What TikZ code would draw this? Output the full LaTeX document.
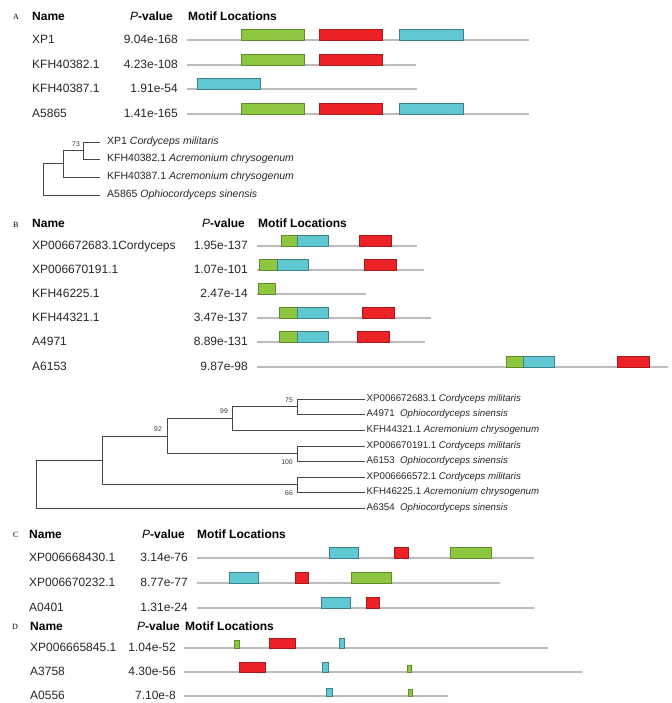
\documentclass[tikz,border=0pt]{standalone}
\usepackage{fontspec}
\setmainfont{Liberation Sans}
\newfontfamily\panelfont{Liberation Serif}
\definecolor{motifgreen}{RGB}{141,198,63}
\definecolor{motifred}{RGB}{236,34,38}
\definecolor{motifcyan}{RGB}{96,200,210}
\definecolor{seqgray}{RGB}{188,188,188}
\definecolor{treegray}{RGB}{70,70,70}

\tikzset{
  seqline/.style={draw=seqgray,line width=1.1pt},
  mgreen/.style={fill=motifgreen,draw=motifgreen!70!black,line width=0.5pt},
  mred/.style={fill=motifred,draw=motifred!70!black,line width=0.5pt},
  mcyan/.style={fill=motifcyan,draw=motifcyan!65!black,line width=0.5pt},
  rowtxt/.style={anchor=base west,inner sep=0pt,text=black!85,font=\fontsize{12}{14}\selectfont},
  pval/.style={anchor=base east,inner sep=0pt,text=black!85,font=\fontsize{12}{14}\selectfont},
  hdr/.style={anchor=base west,inner sep=0pt,font=\fontsize{12}{14}\selectfont\bfseries},
  panel/.style={anchor=base west,inner sep=0pt,font=\fontsize{8}{9}\panelfont},
  branch/.style={draw=treegray,line width=0.7pt},
  leafa/.style={anchor=west,xshift=7pt,inner sep=0pt,text height=7.5pt,text depth=2pt,
    text=black!85,font=\fontsize{10.5}{12}\selectfont},
  leafb/.style={anchor=west,xshift=1.5pt,inner sep=0pt,text height=7pt,text depth=2pt,
    text=black!85,font=\fontsize{9.7}{11}\selectfont},
  boot/.style={inner sep=0pt,text=black!80,font=\fontsize{6.8}{8}\selectfont}
}

\begin{document}
\begin{tikzpicture}[x=1pt,y=-1pt]
  \useasboundingbox (0,0) rectangle (671,703);

  % panel A, motif table
  \node[panel] (pA) at (13,20) {A};
  \node[hdr] (hAn) at (32,21) {Name};
  \node[hdr] (hAp) at (130,21) {\textit{\mdseries P}-value};
  \node[hdr] (hAm) at (188,21) {Motif Locations};
  \foreach \nm/\pv/\y/\e [count=\i] in {XP1/9.04e-168/40/529, KFH40382.1/4.23e-108/65/416,
      KFH40387.1/1.91e-54/89/417, A5865/1.41e-165/114/529} {
    \node[rowtxt] (a\i n) at (32,\y+3.5) {\nm};
    \node[pval] (a\i p) at (178,\y+3.5) {\pv};
    \draw[seqline] (187,\y) -- (\e,\y);
  }
  \foreach \y in {40,114} {
    \draw[mgreen] (241,\y-11) rectangle (304,\y);
    \draw[mred] (319,\y-11) rectangle (382,\y);
    \draw[mcyan] (399,\y-11) rectangle (463,\y);
  }
  \draw[mgreen] (241,54) rectangle (304,65);
  \draw[mred] (319,54) rectangle (382,65);
  \draw[mcyan] (197,78) rectangle (260,89);

  % panel A, tree
  \coordinate (ta1) at (100,142);
  \coordinate (ta2) at (100,159);
  \coordinate (ta3) at (100,177);
  \coordinate (ta4) at (100,195);
  \coordinate (n73) at (83,150.5);
  \coordinate (nA2) at (63,163.75);
  \coordinate (rA) at (43,179.4);
  \draw[branch] (n73) |- (ta1);
  \draw[branch] (n73) |- (ta2);
  \draw[branch] (nA2) |- (n73);
  \draw[branch] (nA2) |- (ta3);
  \draw[branch] (rA) |- (nA2);
  \draw[branch] (rA) |- (ta4);
  \node[boot] (bs73) at (76,144) {73};
  \node[leafa] (la1) at (ta1) {XP1 \textit{Cordyceps militaris}};
  \node[leafa] (la2) at (ta2) {KFH40382.1 \textit{Acremonium chrysogenum}};
  \node[leafa] (la3) at (ta3) {KFH40387.1 \textit{Acremonium chrysogenum}};
  \node[leafa] (la4) at (ta4) {A5865 \textit{Ophiocordyceps sinensis}};

  % panel B, motif table
  \node[panel] (pB) at (13,227) {B};
  \node[hdr] (hBn) at (32,227) {Name};
  \node[hdr] (hBp) at (202,227) {\textit{\mdseries P}-value};
  \node[hdr] (hBm) at (258,227) {Motif Locations};
  \foreach \nm/\pv/\y/\e [count=\i] in {XP006672683.1Cordyceps/1.95e-137/246/417,
      XP006670191.1/1.07e-101/270/424, KFH46225.1/2.47e-14/294/366,
      KFH44321.1/3.47e-137/318/431, A4971/8.89e-131/342/425, A6153/9.87e-98/367/668} {
    \node[rowtxt] (b\i n) at (32,\y+3.5) {\nm};
    \node[pval] (b\i p) at (248,\y+3.5) {\pv};
    \draw[seqline] (257,\y) -- (\e,\y);
  }
  % green, cyan and red motif for each row
  \foreach \y/\g/\c/\r/\s in {246/281/297/359, 270/259/277/364, 318/279/297/362,
      342/279/297/357, 367/506/523/617} {
    \draw[mgreen] (\g,\y-11) rectangle (\c,\y);
    \draw[mcyan] (\c,\y-11) rectangle (\c+31,\y);
    \draw[mred] (\r,\y-11) rectangle (\r+32,\y);
  }
  \draw[mgreen] (258,283) rectangle (275,294);

  % panel B, tree
  \foreach \y [count=\i] in {399,414,430,446,461,477,492,508}
    \coordinate (tb\i) at (365,\y);
  \coordinate (n75) at (297,406.5);
  \coordinate (n99) at (232,418.25);
  \coordinate (n100) at (297,453.5);
  \coordinate (n92) at (167,435.9);
  \coordinate (n66) at (297,484.5);
  \coordinate (nB5) at (102,460.2);
  \coordinate (rB) at (36,484.1);
  \draw[branch] (n75) |- (tb1);
  \draw[branch] (n75) |- (tb2);
  \draw[branch] (n99) |- (n75);
  \draw[branch] (n99) |- (tb3);
  \draw[branch] (n100) |- (tb4);
  \draw[branch] (n100) |- (tb5);
  \draw[branch] (n92) |- (n99);
  \draw[branch] (n92) |- (n100);
  \draw[branch] (n66) |- (tb6);
  \draw[branch] (n66) |- (tb7);
  \draw[branch] (nB5) |- (n92);
  \draw[branch] (nB5) |- (n66);
  \draw[branch] (rB) |- (nB5);
  \draw[branch] (rB) |- (tb8);
  \node[boot] (bs75) at (289,400) {75};
  \node[boot] (bs99) at (224,411) {99};
  \node[boot] (bs92) at (158,429) {92};
  \node[boot] (bs100) at (287,462) {100};
  \node[boot] (bs66) at (289,493) {66};
  \node[leafb] (lb1) at (tb1) {XP006672683.1 \textit{Cordyceps militaris}};
  \node[leafb] (lb2) at (tb2) {A4971\ \ \textit{Ophiocordyceps sinensis}};
  \node[leafb] (lb3) at (tb3) {KFH44321.1 \textit{Acremonium chrysogenum}};
  \node[leafb] (lb4) at (tb4) {XP006670191.1 \textit{Cordyceps militaris}};
  \node[leafb] (lb5) at (tb5) {A6153\ \ \textit{Ophiocordyceps sinensis}};
  \node[leafb] (lb6) at (tb6) {XP006666572.1 \textit{Cordyceps militaris}};
  \node[leafb] (lb7) at (tb7) {KFH46225.1 \textit{Acremonium chrysogenum}};
  \node[leafb] (lb8) at (tb8) {A6354\ \ \textit{Ophiocordyceps sinensis}};

  % panel C
  \node[panel] (pC) at (13,537) {C};
  \node[hdr] (hCn) at (29,538) {Name};
  \node[hdr] (hCp) at (142,538) {\textit{\mdseries P}-value};
  \node[hdr] (hCm) at (197,538) {Motif Locations};
  \foreach \nm/\pv/\y/\e [count=\i] in {XP006668430.1/3.14e-76/558/534,
      XP006670232.1/8.77e-77/583/500, A0401/1.31e-24/608/534} {
    \node[rowtxt] (c\i n) at (29,\y+3.5) {\nm};
    \node[pval] (c\i p) at (188,\y+3.5) {\pv};
    \draw[seqline] (197,\y) -- (\e,\y);
  }
  \draw[mcyan] (329,547) rectangle (358,558);
  \draw[mred] (394,547) rectangle (408,558);
  \draw[mgreen] (450,547) rectangle (491,558);
  \draw[mcyan] (229,572) rectangle (258,583);
  \draw[mred] (295,572) rectangle (308,583);
  \draw[mgreen] (351,572) rectangle (391,583);
  \draw[mcyan] (321,597) rectangle (350,608);
  \draw[mred] (366,597) rectangle (379,608);

  % panel D
  \node[panel] (pD) at (12,629) {D};
  \node[hdr] (hDn) at (30,630) {Name};
  \node[hdr] (hDp) at (137,630) {\textit{\mdseries P}-value};
  \node[hdr] (hDm) at (185,630) {Motif Locations};
  \foreach \nm/\pv/\y/\e [count=\i] in {XP006665845.1/1.04e-52/648/548,
      A3758/4.30e-56/672/582, A0556/7.10e-8/696/448} {
    \node[rowtxt] (d\i n) at (30,\y+3.5) {\nm};
    \node[pval] (d\i p) at (176,\y+3.5) {\pv};
    \draw[seqline] (184,\y) -- (\e,\y);
  }
  \draw[mgreen] (234,640) rectangle (239,648);
  \draw[mred] (269,638) rectangle (295,648);
  \draw[mcyan] (339,638) rectangle (344,648);
  \draw[mred] (239,662) rectangle (265,672);
  \draw[mcyan] (322,662) rectangle (328,672);
  \draw[mgreen] (407,665) rectangle (411,672);
  \draw[mcyan] (326,688) rectangle (332,696);
  \draw[mgreen] (408,689) rectangle (412,696);
\end{tikzpicture}
\end{document}
